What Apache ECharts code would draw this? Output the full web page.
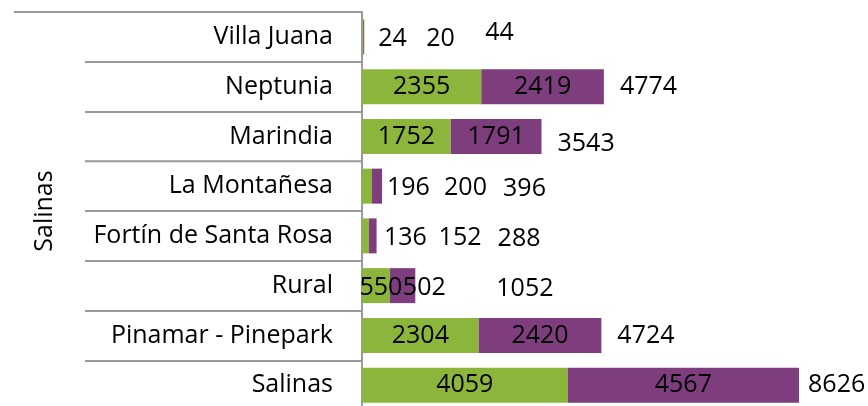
<!DOCTYPE html>
<html>
<head>
<meta charset="utf-8">
<script src="https://cdn.jsdelivr.net/npm/echarts@6/dist/echarts.min.js"></script>
<style>
  html, body { margin: 0; padding: 0; background: #fff; }
  #chart { width: 868px; height: 406px; }
</style>
</head>
<body>
<div id="chart"></div>
<script>
// categorias (de arriba hacia abajo)
var categories = ['Villa Juana', 'Neptunia', 'Marindia', 'La Montañesa', 'Fortín de Santa Rosa', 'Rural', 'Pinamar - Pinepark', 'Salinas'];
var groupName = 'Salinas';
var greenValues = [24, 2355, 1752, 196, 136, 550, 2304, 4059];
var purpleValues = [20, 2419, 1791, 200, 152, 502, 2420, 4567];
var totals = [44, 4774, 3543, 396, 288, 1052, 4724, 8626];

var chart = echarts.init(document.getElementById('chart'));
var font = '"Open Sans", "Noto Sans", sans-serif';
var fs = 25;

// etiquetas de las barras verdes
var greenData = greenValues.map(function (v) {
  var lbl;
  if (v < 300) lbl = { position: 'right', distance: 15, offset: [0, 2] };
  else if (v < 1000) lbl = { position: 'inside', offset: [5, 2] };
  else lbl = { position: 'inside' };
  return { value: v, label: lbl };
});
// etiquetas de las barras violetas
var purpleData = purpleValues.map(function (v) {
  var lbl;
  if (v < 300) lbl = { position: 'right', distance: 62, offset: [0, 2] };
  else if (v < 1000) lbl = { position: 'insideLeft', distance: 13, offset: [0, 2] };
  else lbl = { position: 'inside' };
  return { value: v, label: lbl };
});
// totales: barra invisible de valor 0 al final del stack
var totalData = totals.map(function (t, i) {
  var d = t < 500 ? 121 : (t < 2000 ? 81 : (t > 8000 ? 9 : 16));
  var dy = i === 0 ? -4 : (i === 2 ? 7 : (t < 2000 ? 3 : 0));
  return {
    value: 0,
    label: { position: 'right', distance: d, offset: [0, dy], formatter: String(t) }
  };
});

var option = {
  animation: false,
  grid: { left: 362, top: 12, width: 456, height: 398, outerBoundsMode: 'none' },
  xAxis: {
    type: 'value', min: 0, max: 9000, show: false
  },
  yAxis: {
    type: 'category',
    inverse: true,
    data: categories,
    name: groupName,
    nameLocation: 'middle',
    nameRotate: 90,
    nameGap: 305,
    nameTextStyle: { fontFamily: font, fontSize: fs, color: '#000' },
    axisLine: { show: true, lineStyle: { color: '#999', width: 2 } },
    axisTick: {
      show: true, length: 277, lineStyle: { color: '#999', width: 2 },
      interval: 0
    },
    axisLabel: { fontFamily: font, fontSize: fs, color: '#000', margin: 29 },
    splitLine: { show: false }
  },
  graphic: [{
    type: 'line',
    shape: { x1: 14, y1: 12, x2: 86, y2: 12 },
    style: { stroke: '#999', lineWidth: 2 }
  }],
  series: [{
    type: 'bar', stack: 'a', barWidth: 35,
    itemStyle: { color: '#8BB63B' },
    label: { show: true, fontFamily: font, fontSize: fs, color: '#000' },
    data: greenData
  }, {
    type: 'bar', stack: 'a', barWidth: 35,
    itemStyle: { color: '#7E3E7E' },
    label: { show: true, fontFamily: font, fontSize: fs, color: '#000' },
    data: purpleData
  }, {
    type: 'bar', stack: 'a', barWidth: 35,
    itemStyle: { color: 'rgba(0,0,0,0)' },
    label: { show: true, fontFamily: font, fontSize: fs, color: '#000' },
    data: totalData
  }]
};
chart.setOption(option);
</script>
</body>
</html>
